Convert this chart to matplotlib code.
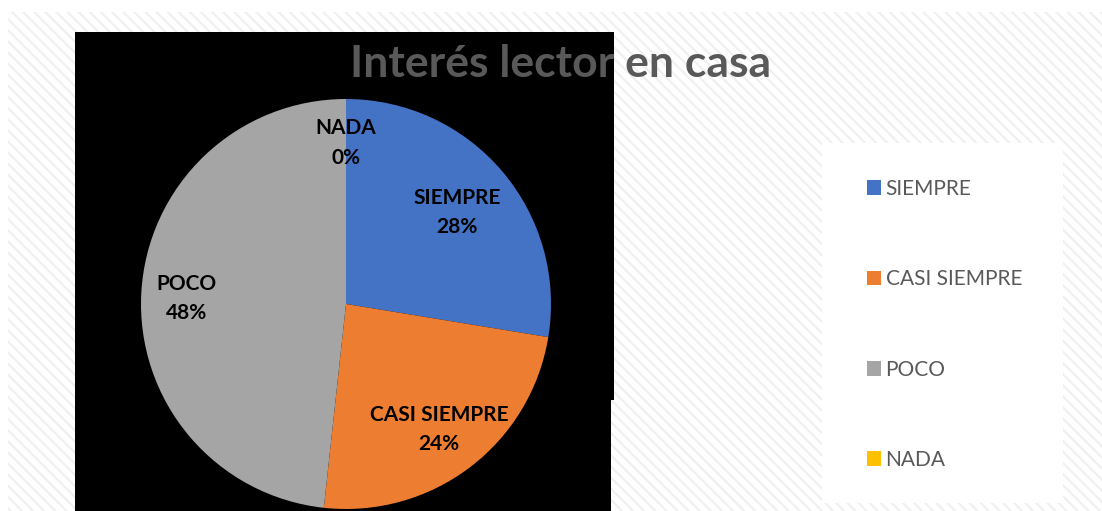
import matplotlib.pyplot as plt
from matplotlib.patches import Rectangle
import numpy as np

categorias = ["SIEMPRE", "CASI SIEMPRE", "POCO", "NADA"]
valores = [8, 7, 14, 0]
colores = ["#4472C4", "#ED7D31", "#A5A5A5", "#FFC000"]
titulo = "Interés lector en casa"

W, H = 1102, 511
plt.rcParams['font.family'] = ['Lato', 'DejaVu Sans']
plt.rcParams['hatch.linewidth'] = 1.6

fig = plt.figure(figsize=(W / 100, H / 100), dpi=100)
fig.patch.set_facecolor("white")


def px_rect(x0, y0, x1, y1, **kw):
    # rectangulo en pixeles (origen arriba a la izquierda)
    r = Rectangle((x0 / W, 1 - y1 / H), (x1 - x0) / W, (y1 - y0) / H,
                  transform=fig.transFigure, **kw)
    fig.add_artist(r)
    return r


# fondo rayado del area del grafico
px_rect(8, 12, 1102, 511, facecolor="white", edgecolor="#f0f0f0",
        hatch="\\\\\\", linewidth=0, zorder=0)
# bloque negro detras del circulo
px_rect(75, 32, 614, 400, facecolor="black", edgecolor="none", zorder=1)
px_rect(75, 399, 611, 511, facecolor="black", edgecolor="none", zorder=1)
# caja blanca de la leyenda
px_rect(822, 143, 1063, 503, facecolor="white", edgecolor="none", zorder=1)

# circulo: centro (346, 304), radio 205 px
cx, cy, r = 346, 304, 205
ax = fig.add_axes([(cx - r) / W, 1 - (cy + r) / H, 2 * r / W, 2 * r / H])
ax.set_zorder(2)
ax.patch.set_visible(False)
wedges, _ = ax.pie(valores, colors=colores, startangle=90, counterclock=False,
                   radius=1.0, wedgeprops=dict(linewidth=0))
ax.set_xlim(-1, 1)
ax.set_ylim(-1, 1)
ax.set_aspect("equal")
ax.axis("off")

total = sum(valores)
dist = [0.71, 0.75, 0.78, 0.80]
for w, cat, v, d in zip(wedges, categorias, valores, dist):
    ang = np.deg2rad((w.theta1 + w.theta2) / 2)
    ax.text(d * np.cos(ang), d * np.sin(ang) - 0.015, f"{cat}\n{v / total:.0%}",
            ha="center", va="center", fontsize=15, fontweight="bold",
            color="black", linespacing=1.58)

fig.text(561 / W, 1 - 77 / H, titulo, ha="center", va="baseline",
         fontsize=32, fontweight="bold", color="#595959", zorder=5)

leg = fig.legend(wedges, categorias, loc="upper left",
                 bbox_to_anchor=(848 / W, 1 - 160 / H), frameon=False,
                 fontsize=15, labelcolor="#595959", handlelength=0.7,
                 handleheight=0.7, handletextpad=0.2, labelspacing=3.38)
leg.set_zorder(5)

fig.savefig("out.png", dpi=100)
